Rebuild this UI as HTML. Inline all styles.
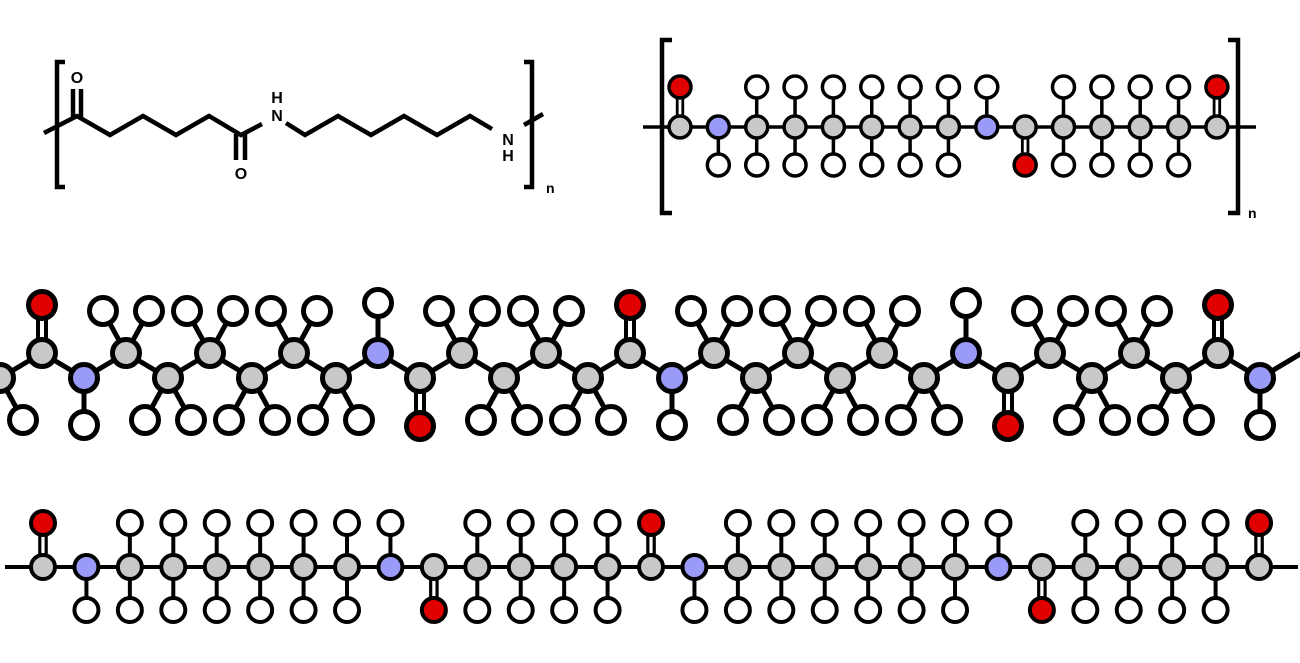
<!DOCTYPE html>
<html><head><meta charset="utf-8"><style>
html,body{margin:0;padding:0;background:#fff;width:1300px;height:663px;overflow:hidden}
svg{display:block}
text{font-family:"Liberation Sans",sans-serif;font-weight:bold;fill:#000}
</style></head><body>
<svg id="s" width="1300" height="663" viewBox="0 0 1300 663" xmlns="http://www.w3.org/2000/svg">
<g fill="none" stroke="#000" stroke-width="4.5" stroke-linejoin="miter">
<path d="M65,62 H57 V187 H65"/>
<path d="M524,62 H532 V187 H524"/>
<polyline points="44,133 77,116 110,135 143,116 176,135 209,116 241,135 262,124"/>
<line x1="73" y1="117" x2="73" y2="89"/><line x1="81" y1="119" x2="81" y2="89"/>
<line x1="236" y1="134" x2="236" y2="160"/><line x1="245" y1="134" x2="245" y2="160"/>
<polyline points="286,123 305,135 338,116 371,135 404,116 437,135 470,116 492,129"/>
<line x1="524" y1="125" x2="543" y2="114"/>
<path d="M672,40 H662 V213 H672"/>
<path d="M1228,40 H1238 V213 H1228"/>
</g>
<text x="77" y="83" font-size="16" text-anchor="middle">O</text>
<text x="241" y="179" font-size="16" text-anchor="middle">O</text>
<text x="277" y="103" font-size="16" text-anchor="middle">H</text>
<text x="277" y="121" font-size="16" text-anchor="middle">N</text>
<text x="508" y="145" font-size="16" text-anchor="middle">N</text>
<text x="508" y="161" font-size="16" text-anchor="middle">H</text>
<text x="546" y="193" font-size="14">n</text>
<text x="1248" y="218" font-size="14">n</text>
<g id="g"></g>
</svg>
<script>
var g=document.getElementById('g'),ns='http://www.w3.org/2000/svg';
var B=[],A=[];
function bond(x1,y1,x2,y2,w,dbl){B.push([x1,y1,x2,y2,w,dbl]);}
function atom(x,y,r,c,w){A.push([x,y,r,c,w]);}
var GR='#c8c8c8',BL='#9a9af8',RD='#e00000',WH='#fff';
function row(x0,dx,yb,yt,yd,r,w,seq){
for(var i=0;i<seq.length;i++){var x=x0+i*dx,s=seq[i];
 if(s=='C'){bond(x,yb,x,yt,w);bond(x,yb,x,yd,w);atom(x,yt,r,WH,w);atom(x,yd,r,WH,w);atom(x,yb,r,GR,w);}
 else if(s=='CU'){bond(x,yb,x,yt,w,1);atom(x,yt,r,RD,w);atom(x,yb,r,GR,w);}
 else if(s=='CD'){bond(x,yb,x,yd,w,1);atom(x,yd,r,RD,w);atom(x,yb,r,GR,w);}
 else if(s=='N-'){bond(x,yb,x,yd,w);atom(x,yd,r,WH,w);atom(x,yb,r,BL,w);}
 else if(s=='N+'){bond(x,yb,x,yt,w);atom(x,yt,r,WH,w);atom(x,yb,r,BL,w);}
}}
bond(643,127,1256,127,3.5);
row(680,38.35,127,87,165,11,3.5,['CU','N-','C','C','C','C','C','C','N+','CD','C','C','C','C','CU']);
bond(5,567,1298,567,4);
row(43,43.43,567,523,610,12,4,['CU','N-','C','C','C','C','C','C','N+','CD','C','C','C','C','CU','N-','C','C','C','C','C','C','N+','CD','C','C','C','C','CU']);
(function(){var yu=353,yl=378,r=13.5,w=5,dx=42;
var pts=[];
for(var i=-1;i<=31;i++){var x=i*dx;var up=(((i%2)+2)%2)==1;pts.push([x,up?yu:yl]);}
for(var k=0;k<pts.length-1;k++)bond(pts[k][0],pts[k][1],pts[k+1][0],pts[k+1][1],w);
for(var i=-1;i<=30;i++){var x=i*dx;var up=(((i%2)+2)%2)==1;var y=up?yu:yl;
 var m=(((i%14)+14)%14);var t;
 if(m==1)t='OU'; else if(m==2||m==9)t='N'; else if(m==10)t='OD'; else t='C';
 if(t=='OU'){bond(x,y,x,y-48,w,1);atom(x,y-48,r,RD,w);atom(x,y,r,GR,w);}
 else if(t=='OD'){bond(x,y,x,y+48,w,1);atom(x,y+48,r,RD,w);atom(x,y,r,GR,w);}
 else if(t=='N'){var hy=up?y-50:y+47;bond(x,y,x,hy,w);atom(x,hy,r,WH,w);atom(x,y,r,BL,w);}
 else {var hy=up?y-42:y+42;bond(x,y,x-23,hy,w);bond(x,y,x+23,hy,w);atom(x-23,hy,r,WH,w);atom(x+23,hy,r,WH,w);atom(x,y,r,GR,w);}
}})();
function el(n,a){var e=document.createElementNS(ns,n);for(var k in a)e.setAttribute(k,a[k]);g.appendChild(e);}
B.forEach(function(b){
 if(b[5]){var o=b[4]*0.8;el('line',{x1:b[0]-o,y1:b[1],x2:b[2]-o,y2:b[3],stroke:'#000','stroke-width':b[4]*0.8});el('line',{x1:b[0]+o,y1:b[1],x2:b[2]+o,y2:b[3],stroke:'#000','stroke-width':b[4]*0.8});}
 else el('line',{x1:b[0],y1:b[1],x2:b[2],y2:b[3],stroke:'#000','stroke-width':b[4]});
});
A.forEach(function(a){el('circle',{cx:a[0],cy:a[1],r:a[2],fill:a[3],stroke:'#000','stroke-width':a[4]});});
</script>
</body></html>
